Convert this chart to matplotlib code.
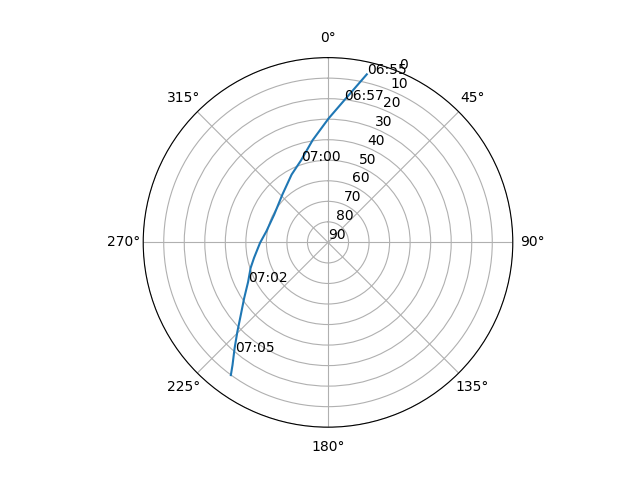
import numpy as np
import matplotlib
matplotlib.use('Agg')
import matplotlib.pyplot as plt

# satellite pass track: azimuth (deg) and elevation (deg)
az = [13.0, 10.2, 6.6, 0.3, 351.5, 341.7, 331.8, 316.4, 297.3, 280.2,
      269.6, 258.2, 251.7, 243.7, 236.3, 230.2, 225.4, 221.4, 217.9, 216.2]
elev = [6.0, 13.0, 20.2, 29.6, 39.6, 48.0, 52.5, 57.8, 60.5, 59.5,
        56.9, 53.2, 50.3, 46.6, 40.9, 34.7, 28.0, 21.2, 14.3, 9.9]

# time labels along the track
label_times = ['06:55', '06:57', '07:00', '07:02', '07:05']
label_az = [13.0, 6.6, 341.7, 243.7, 220.5]
label_elev = [6.0, 20.2, 48.0, 46.6, 20.0]

fig = plt.figure(figsize=(6.4, 4.8), dpi=100)
ax = fig.add_subplot(111, projection='polar')
ax.set_theta_zero_location('N')
ax.set_theta_direction(-1)

ax.plot(np.radians(az), elev)
for t, a, e in zip(label_times, label_az, label_elev):
    ax.text(np.radians(a), e, t)

ax.set_rlim(90, 0)
ax.set_rticks(range(0, 91, 10))

plt.savefig('out.png')
